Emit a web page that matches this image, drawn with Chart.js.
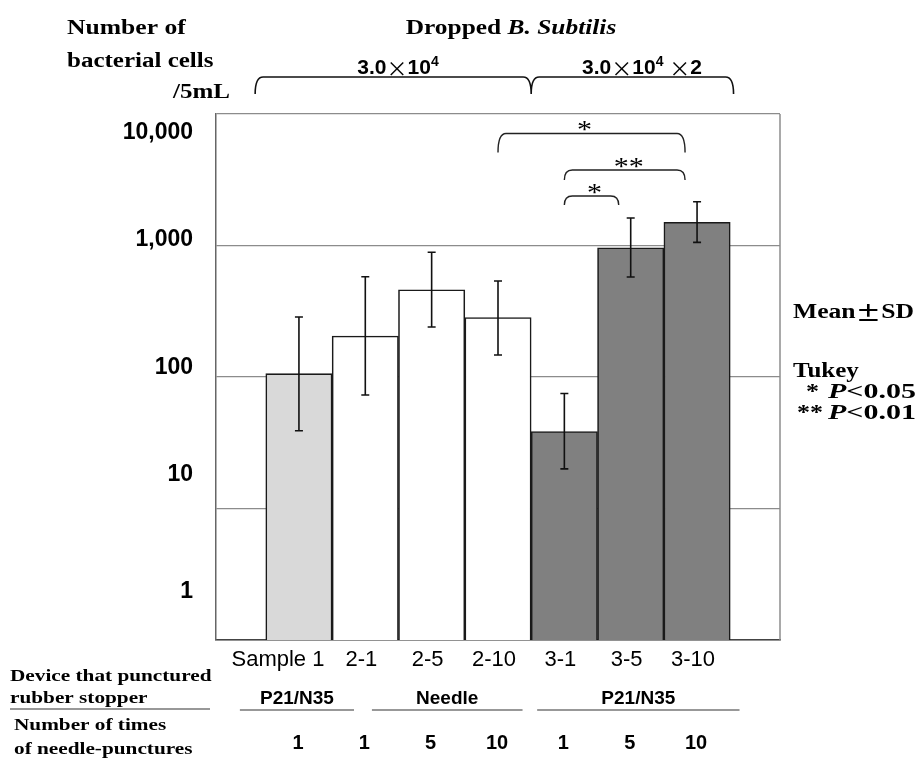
<!DOCTYPE html>
<html>
<head>
<meta charset="utf-8">
<script src="https://cdn.jsdelivr.net/npm/chart.js@4.4.0/dist/chart.umd.min.js"></script>
<style>
  html, body { margin: 0; padding: 0; background: #fff; }
  #wrap { width: 922px; height: 758px; }
</style>
</head>
<body>
<div id="wrap"><canvas id="chart" width="922" height="758"></canvas></div>
<script>
// values (log axis, cells / 5mL)
const categories = ['Sample 1', '2-1', '2-5', '2-10', '3-1', '3-5', '3-10'];
const meanCells = [106, 205, 461, 283, 38.5, 962, 1500];
const sdHigh = [286, 579, 888, 537, 75, 1618, 2152];
const sdLow = [39, 73, 240, 147, 20, 576, 1057];
const barGroup = ['control', 'needle', 'needle', 'needle', 'double', 'double', 'double'];
const yTickValues = [1, 10, 100, 1000, 10000];
const yTickLabels = ['1', '10', '100', '1,000', '10,000'];
const devices = ['P21/N35', 'Needle', 'P21/N35'];
const punctureCounts = ['1', '1', '5', '10', '1', '5', '10'];
const comparisons = [
    { from: 3, to: 6, mark: '*' },
    { from: 4, to: 6, mark: '**' },
    { from: 4, to: 5, mark: '*' },
];

const groupColors = { control: '#d9d9d9', needle: '#ffffff', double: '#808080' };
const SERIF = '"Liberation Serif", "Times New Roman", serif';
const SANS = '"Liberation Sans", Arial, sans-serif';
const CJK = '"Noto Sans CJK JP", "DejaVu Sans", sans-serif';

// draw text, optionally stretched horizontally (original uses a wide bold serif)
const drawText = (ctx, str, x, y, font, align, sx) => {
    sx = sx || 1;
    ctx.save();
    ctx.font = font;
    ctx.textBaseline = 'middle';
    ctx.textAlign = 'left';
    const w = ctx.measureText(str).width * sx;
    let left = x;
    if (align === 'center') left = x - w / 2;
    if (align === 'right') left = x - w;
    ctx.translate(left, y);
    ctx.scale(sx, 1);
    ctx.fillStyle = '#000';
    ctx.fillText(str, 0, 0);
    ctx.restore();
    return w;
};

// draw several pieces in a row: [[text, font, dy], ...]
const drawPieces = (ctx, pieces, x, y, align, sx) => {
    sx = sx || 1;
    ctx.save();
    let total = 0;
    pieces.forEach(p => { ctx.font = p[1]; total += ctx.measureText(p[0]).width * sx; });
    ctx.restore();
    let cx = align === 'center' ? x - total / 2 : (align === 'right' ? x - total : x);
    pieces.forEach(p => {
        cx += drawText(ctx, p[0], cx, y + (p[2] || 0), p[1], 'left', sx);
    });
};

const curlyBrace = (ctx, x0, xm, x1, yLine, yEnd) => {
    const r = 8;
    ctx.beginPath();
    ctx.moveTo(x0, yEnd);
    ctx.quadraticCurveTo(x0, yLine, x0 + r, yLine);
    ctx.lineTo(xm - r, yLine);
    ctx.quadraticCurveTo(xm, yLine, xm, yEnd);
    ctx.quadraticCurveTo(xm, yLine, xm + r, yLine);
    ctx.lineTo(x1 - r, yLine);
    ctx.quadraticCurveTo(x1, yLine, x1, yEnd);
    ctx.stroke();
};

const decorations = {
    id: 'decorations',
    beforeDatasetsDraw(chart) {
        const { ctx, chartArea: a } = chart;
        // right frame edge
        ctx.save();
        ctx.strokeStyle = '#8c8c8c';
        ctx.lineWidth = 1.5;
        ctx.beginPath();
        ctx.moveTo(a.right, a.top);
        ctx.lineTo(a.right, a.bottom);
        ctx.stroke();
        ctx.restore();
    },
    afterDatasetsDraw(chart) {
        const { ctx } = chart;
        const xs = chart.scales.x;
        const ys = chart.scales.y;

        // error bars (mean ± SD)
        ctx.save();
        ctx.strokeStyle = '#111';
        ctx.lineWidth = 1.6;
        categories.forEach((c, i) => {
            const x = xs.getPixelForValue(i);
            const yTop = ys.getPixelForValue(sdHigh[i]);
            const yBot = ys.getPixelForValue(sdLow[i]);
            ctx.beginPath();
            ctx.moveTo(x, yTop); ctx.lineTo(x, yBot);
            ctx.moveTo(x - 4, yTop); ctx.lineTo(x + 4, yTop);
            ctx.moveTo(x - 4, yBot); ctx.lineTo(x + 4, yBot);
            ctx.stroke();
        });
        ctx.restore();

        // Tukey brackets
        const levels = [7100, 3750, 2380];
        const drops = [19, 10, 9];
        const markDx = [-7, 4, 3];
        ctx.save();
        ctx.strokeStyle = '#222';
        ctx.lineWidth = 1.4;
        comparisons.forEach((cmp, k) => {
            const xa = xs.getPixelForValue(cmp.from);
            const xb = xs.getPixelForValue(cmp.to) - 12;
            const yt = ys.getPixelForValue(levels[k]);
            const yd = yt + drops[k];
            const r = 8;
            ctx.beginPath();
            ctx.moveTo(xa, yd);
            ctx.quadraticCurveTo(xa, yt, xa + r, yt);
            ctx.lineTo(xb - r, yt);
            ctx.quadraticCurveTo(xb, yt, xb, yd);
            ctx.stroke();
            drawText(ctx, cmp.mark, (xa + xb) / 2 + markDx[k], yt - 2, '25px ' + SERIF, 'center', 1.2);
        });
        ctx.restore();
    },
    afterDraw(chart) {
        const { ctx } = chart;
        const xs = chart.scales.x;
        const ys = chart.scales.y;

        // y tick labels (placed like the original figure)
        const shift = [-48, -34, -9, -6, 19];
        yTickValues.forEach((v, i) => {
            drawText(ctx, yTickLabels[i], 193, ys.getPixelForValue(v) + shift[i], 'bold 23px ' + SANS, 'right');
        });

        // category labels
        categories.forEach((c, i) => {
            const dx = i === 0 ? -21 : -4;
            drawText(ctx, c, xs.getPixelForValue(i) + dx, 660, '22px ' + SANS, 'center');
        });

        // axis title
        drawText(ctx, 'Number of', 67, 29, 'bold 20px ' + SERIF, 'left', 1.28);
        drawText(ctx, 'bacterial cells', 67, 62, 'bold 20px ' + SERIF, 'left', 1.25);
        drawText(ctx, '/5mL', 230, 93, 'bold 20px ' + SERIF, 'right', 1.25);

        // inoculum header
        drawPieces(ctx, [
            ['Dropped ', 'bold 20px ' + SERIF],
            ['B. Subtilis', 'italic bold 20px ' + SERIF],
        ], 511, 29, 'center', 1.27);

        ctx.save();
        ctx.strokeStyle = '#111';
        ctx.lineWidth = 1.6;
        curlyBrace(ctx, xs.getPixelForValue(-0.66), xs.getPixelForValue(3.5), xs.getPixelForValue(6.55), 77, 94);
        ctx.restore();

        const big = 'bold 21px ' + SANS;
        const cross = '21px ' + CJK;
        const sup = 'bold 14px ' + SANS;
        drawPieces(ctx, [['3.0', big], ['×', cross], ['10', big], ['4', sup, -6]], 398, 68, 'center');
        drawPieces(ctx, [['3.0', big], ['×', cross], ['10', big], ['4', sup, -6], [' ', big], ['×', cross], ['2', big]], 642, 68, 'center');

        // right-hand notes
        const note = 'bold 20px ' + SERIF;
        drawPieces(ctx, [['Mean', note], ['±', 'bold 20px ' + CJK], ['SD', note]], 793, 313, 'left', 1.28);
        drawText(ctx, 'Tukey', 793, 372, note, 'left', 1.25);
        drawText(ctx, '*', 806, 393, note, 'left', 1.3);
        drawPieces(ctx, [['P', 'italic ' + note], ['<0.05', note]], 828, 393, 'left', 1.5);
        drawText(ctx, '**', 797, 414, note, 'left', 1.3);
        drawPieces(ctx, [['P', 'italic ' + note], ['<0.01', note]], 828, 414, 'left', 1.5);

        // table under the axis
        const rowFont = 'bold 17px ' + SERIF;
        drawText(ctx, 'Device that punctured', 10, 677, rowFont, 'left', 1.25);
        drawText(ctx, 'rubber stopper', 10, 699, rowFont, 'left', 1.25);
        drawText(ctx, 'Number of times', 14, 726, rowFont, 'left', 1.25);
        drawText(ctx, 'of needle-punctures', 14, 750, rowFont, 'left', 1.25);

        const devFont = 'bold 19px ' + SANS;
        const spans = [[-0.89, 0.83], [1.1, 3.37], [3.59, 6.64]];
        ctx.save();
        ctx.strokeStyle = '#333';
        ctx.lineWidth = 1.2;
        ctx.beginPath();
        ctx.moveTo(10, 709); ctx.lineTo(210, 709);
        spans.forEach(s => {
            ctx.moveTo(xs.getPixelForValue(s[0]), 710);
            ctx.lineTo(xs.getPixelForValue(s[1]), 710);
        });
        ctx.stroke();
        ctx.restore();
        devices.forEach((d, k) => {
            const mid = (xs.getPixelForValue(spans[k][0]) + xs.getPixelForValue(spans[k][1])) / 2;
            drawText(ctx, d, mid, 699, devFont, 'center', 1.0);
        });
        punctureCounts.forEach((n, i) => {
            drawText(ctx, n, xs.getPixelForValue(i) - 1, 743, 'bold 20px ' + SANS, 'center');
        });
    },
};

new Chart(document.getElementById('chart'), {
    type: 'bar',
    data: {
        datasets: [{
            data: meanCells.map((v, i) => ({ x: i, y: v })),
            backgroundColor: barGroup.map(g => groupColors[g]),
            borderColor: '#1a1a1a',
            borderWidth: 1.6,
            barPercentage: 1,
            categoryPercentage: 1,
        }],
    },
    options: {
        responsive: false,
        animation: false,
        layout: { padding: { left: 216, right: 142, top: 114, bottom: 118 } },
        plugins: { legend: { display: false }, tooltip: { enabled: false } },
        scales: {
            x: {
                type: 'linear',
                offset: false,
                min: -1.25,
                max: 7.25,
                ticks: { display: false },
                grid: { display: false, drawTicks: false },
                border: { display: true, color: '#444', width: 1.5 },
            },
            y: {
                type: 'logarithmic',
                min: 1,
                max: 10000,
                afterBuildTicks: axis => { axis.ticks = yTickValues.map(v => ({ value: v })); },
                ticks: { display: false },
                grid: { color: '#8c8c8c', lineWidth: 1.2, drawTicks: false },
                border: { display: true, color: '#666', width: 1.5 },
            },
        },
    },
    plugins: [decorations],
});
</script>
</body>
</html>
